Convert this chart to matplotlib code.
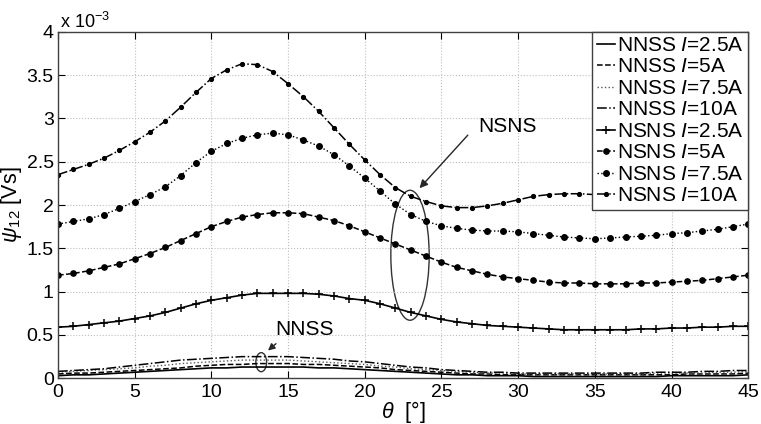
import numpy as np
import matplotlib
matplotlib.use('Agg')
import matplotlib.pyplot as plt
from matplotlib.patches import Ellipse
from matplotlib.ticker import FuncFormatter

plt.rcParams['font.family'] = ['Liberation Sans', 'DejaVu Sans']
plt.rcParams['mathtext.fontset'] = 'custom'
plt.rcParams['mathtext.rm'] = 'Liberation Sans'
plt.rcParams['mathtext.it'] = 'Liberation Sans:italic'

# rotor angle in degrees, one value per degree
theta = np.arange(0, 46)

# flux linkage psi12, in units of 1e-3 Vs
nnss_25 = [0.03, 0.04, 0.04, 0.05, 0.06, 0.07, 0.08, 0.09, 0.10, 0.11, 0.12, 0.12, 0.13, 0.13, 0.13, 0.13,
           0.13, 0.12, 0.12, 0.11, 0.10, 0.09, 0.08, 0.07, 0.06, 0.05, 0.04, 0.04, 0.03, 0.03, 0.03,
           0.02, 0.02, 0.02, 0.02, 0.02, 0.02, 0.02, 0.02, 0.02, 0.03, 0.03, 0.03, 0.03, 0.03, 0.04]
nnss_5 = [0.05, 0.06, 0.06, 0.07, 0.08, 0.09, 0.10, 0.11, 0.12, 0.14, 0.15, 0.16, 0.16, 0.17, 0.17, 0.17,
          0.16, 0.16, 0.15, 0.14, 0.13, 0.12, 0.10, 0.09, 0.08, 0.07, 0.06, 0.05, 0.05, 0.04, 0.04,
          0.04, 0.04, 0.04, 0.04, 0.04, 0.04, 0.04, 0.04, 0.04, 0.04, 0.05, 0.05, 0.05, 0.05, 0.06]
nnss_75 = [0.07, 0.08, 0.09, 0.10, 0.11, 0.12, 0.14, 0.15, 0.17, 0.18, 0.19, 0.20, 0.21, 0.21, 0.21, 0.21,
           0.20, 0.19, 0.18, 0.17, 0.16, 0.14, 0.13, 0.11, 0.10, 0.09, 0.08, 0.07, 0.06, 0.06, 0.05,
           0.05, 0.05, 0.05, 0.05, 0.05, 0.05, 0.05, 0.05, 0.06, 0.06, 0.06, 0.06, 0.07, 0.07, 0.08]
nnss_10 = [0.08, 0.09, 0.10, 0.11, 0.13, 0.15, 0.17, 0.19, 0.21, 0.22, 0.23, 0.24, 0.25, 0.25, 0.25, 0.25,
           0.24, 0.23, 0.22, 0.20, 0.19, 0.17, 0.15, 0.13, 0.12, 0.10, 0.09, 0.08, 0.07, 0.07, 0.06,
           0.06, 0.06, 0.06, 0.06, 0.06, 0.06, 0.06, 0.06, 0.07, 0.07, 0.07, 0.08, 0.08, 0.09, 0.09]

nsns_25 = [0.59, 0.60, 0.62, 0.64, 0.66, 0.69, 0.72, 0.76, 0.81, 0.86, 0.90, 0.93, 0.96, 0.98, 0.98, 0.98,
           0.98, 0.97, 0.95, 0.92, 0.90, 0.86, 0.81, 0.76, 0.72, 0.68, 0.65, 0.63, 0.61, 0.60, 0.59,
           0.58, 0.57, 0.56, 0.56, 0.56, 0.56, 0.56, 0.57, 0.57, 0.58, 0.58, 0.59, 0.59, 0.60, 0.60]
nsns_5 = [1.19, 1.21, 1.24, 1.28, 1.32, 1.38, 1.44, 1.51, 1.59, 1.67, 1.75, 1.81, 1.86, 1.89, 1.91, 1.91,
          1.90, 1.86, 1.82, 1.76, 1.69, 1.62, 1.55, 1.48, 1.41, 1.34, 1.28, 1.24, 1.20, 1.17, 1.15,
          1.13, 1.11, 1.10, 1.10, 1.09, 1.09, 1.09, 1.10, 1.10, 1.11, 1.12, 1.13, 1.15, 1.17, 1.19]
nsns_75 = [1.78, 1.81, 1.84, 1.89, 1.96, 2.04, 2.12, 2.21, 2.34, 2.49, 2.62, 2.71, 2.77, 2.81, 2.83, 2.81,
           2.75, 2.68, 2.58, 2.45, 2.31, 2.16, 2.01, 1.89, 1.81, 1.76, 1.73, 1.71, 1.70, 1.70, 1.69,
           1.67, 1.65, 1.63, 1.62, 1.61, 1.62, 1.63, 1.64, 1.65, 1.67, 1.68, 1.70, 1.72, 1.75, 1.78]
nsns_10 = [2.35, 2.41, 2.47, 2.54, 2.63, 2.73, 2.84, 2.97, 3.13, 3.30, 3.46, 3.56, 3.63, 3.62, 3.54, 3.40,
           3.25, 3.08, 2.89, 2.70, 2.52, 2.35, 2.20, 2.10, 2.04, 1.99, 1.97, 1.97, 1.99, 2.02, 2.06,
           2.10, 2.12, 2.13, 2.13, 2.12, 2.12, 2.13, 2.15, 2.17, 2.19, 2.21, 2.24, 2.27, 2.31, 2.35]

labels = ['NNSS $I$=2.5A', 'NNSS $I$=5A', 'NNSS $I$=7.5A', 'NNSS $I$=10A',
          'NSNS $I$=2.5A', 'NSNS $I$=5A', 'NSNS $I$=7.5A', 'NSNS $I$=10A']

fig = plt.figure(figsize=(7.61, 4.24), dpi=100)
ax = fig.add_axes([0.0762, 0.1078, 0.907, 0.8174])

# NNSS: plain lines
ax.plot(theta, nnss_25, '-', color='k', lw=1.2, label=labels[0])
ax.plot(theta, nnss_5, '--', color='k', lw=1.1, label=labels[1])
ax.plot(theta, nnss_75, ':', color='0.35', lw=1.0, label=labels[2])
ax.plot(theta, nnss_10, '-.', color='k', lw=1.1, label=labels[3])

# NSNS: lines with markers
ax.plot(theta, nsns_25, '-', color='k', lw=1.2, marker='+', ms=6, mew=1.1, label=labels[4])
ax.plot(theta, nsns_5, '--', color='k', lw=1.1, marker='o', ms=3.8, label=labels[5])
ax.plot(theta, nsns_75, ':', color='k', lw=1.0, marker='.', ms=8, label=labels[6])
ax.plot(theta, nsns_10, '-.', color='k', lw=1.1, marker='.', ms=5.5, label=labels[7])

ax.set_xlim(0, 45)
ax.set_ylim(0, 4)
ax.set_xticks(np.arange(0, 46, 5))
ax.set_yticks(np.arange(0, 4.01, 0.5))
ax.yaxis.set_major_formatter(FuncFormatter(lambda v, p: '%g' % v))
ax.tick_params(direction='in', top=True, right=True, length=5, labelsize=14)
ax.tick_params(axis='x', pad=4)
ax.tick_params(axis='y', pad=3)
ax.grid(True, linestyle=':', color='0.75', lw=0.8)
for s in ax.spines.values():
    s.set_linewidth(1.0)
    s.set_color('0.25')

ax.set_xlabel(r'$\theta$  [°]', fontsize=15.5, labelpad=-1)
ax.set_ylabel(r'$\psi_{12}$ [Vs]', fontsize=15.5, labelpad=2)
ax.text(0.003, 1.0, r'x 10$^{-3}$', transform=ax.transAxes, fontsize=13, ha='left', va='bottom')

leg = ax.legend(loc='upper right', borderaxespad=0, fontsize=15, handlelength=0.9,
                handletextpad=0.1, labelspacing=0.12, borderpad=0.2, fancybox=False,
                framealpha=1, edgecolor='0.25')
leg.get_frame().set_linewidth(1.0)

# NSNS annotation
ax.add_patch(Ellipse((22.95, 1.42), 2.5, 1.5, fill=False, edgecolor='0.2', lw=1.0))
ax.annotate('', xy=(23.45, 2.17), xytext=(26.84, 2.83),
            arrowprops=dict(arrowstyle='-|>', color='0.15', lw=1.0, mutation_scale=12))
ax.text(29.3, 2.91, 'NSNS', fontsize=15, ha='center', va='center')

# NNSS annotation
ax.add_patch(Ellipse((13.25, 0.186), 0.7, 0.22, fill=False, edgecolor='0.2', lw=1.0))
ax.annotate('', xy=(13.55, 0.30), xytext=(14.35, 0.42),
            arrowprops=dict(arrowstyle='-|>', color='0.15', lw=1.0, mutation_scale=10))
ax.text(16.1, 0.56, 'NNSS', fontsize=15, ha='center', va='center')

fig.savefig('out.png', dpi=100)
